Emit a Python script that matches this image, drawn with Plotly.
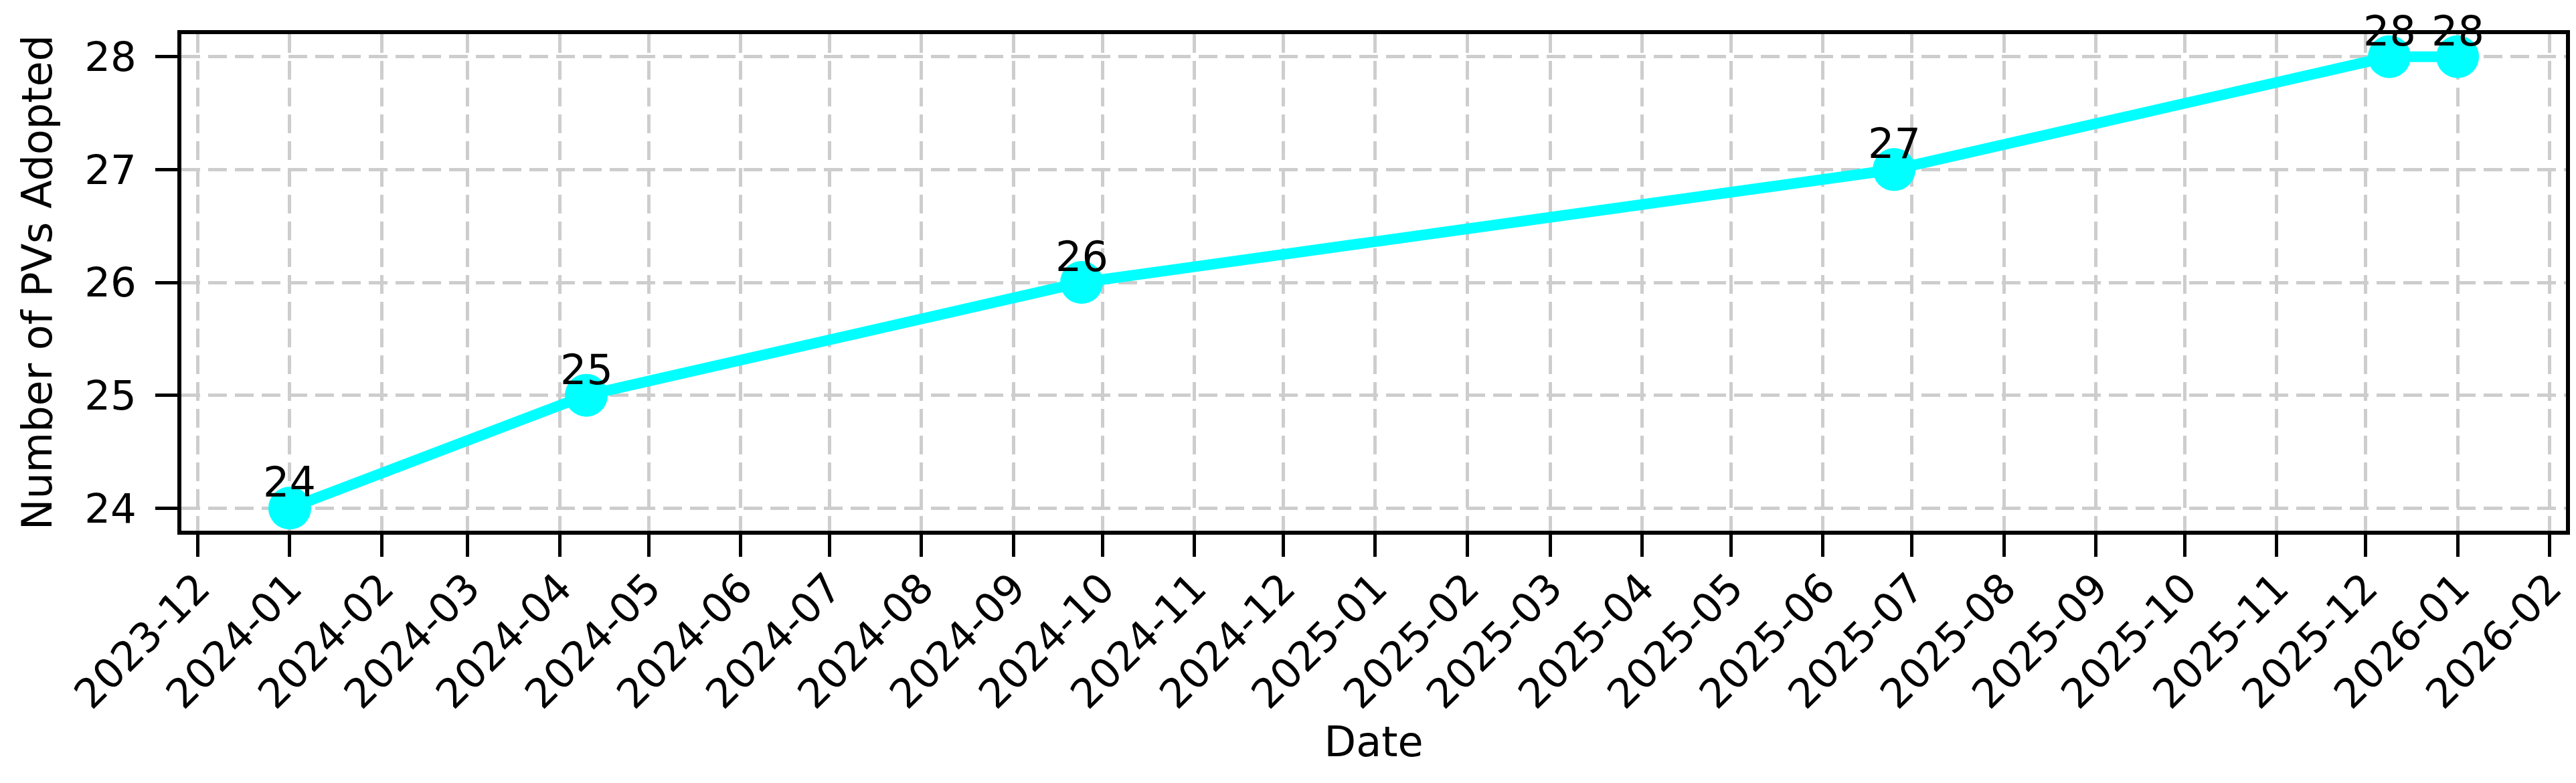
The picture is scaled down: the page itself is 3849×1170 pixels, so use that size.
import plotly.graph_objects as go
import pandas as pd

# Data
dates = ["2024-01-01", "2024-04-10", "2024-09-24", "2025-06-25", "2025-12-09", "2026-01-01"]
pv_counts = [24, 25, 26, 27, 28, 28]

x_title = "Date"
y_title = "Number of PVs Adopted"

# axis ranges with 5% padding (matplotlib default margins)
dt = pd.to_datetime(dates)
span = dt.max() - dt.min()
x_range = [(dt.min() - span * 0.05).strftime("%Y-%m-%d %H:%M:%S"),
           (dt.max() + span * 0.05).strftime("%Y-%m-%d %H:%M:%S")]
y_span = max(pv_counts) - min(pv_counts)
y_range = [min(pv_counts) - 0.05 * y_span, max(pv_counts) + 0.05 * y_span]

FONT = "DejaVu Sans"
TICK_SIZE = 61
TITLE_SIZE = 62

fig = go.Figure()
fig.add_trace(go.Scatter(
    x=dates, y=pv_counts, mode="lines+markers",
    line=dict(color="#00ffff", width=16),
    marker=dict(color="#00ffff", size=64, line=dict(width=0)),
    showlegend=False,
))

for d, v in zip(dates, pv_counts):
    fig.add_annotation(x=d, y=v, text=str(v), showarrow=False,
                       xanchor="center", yanchor="bottom", yshift=0,
                       font=dict(family=FONT, size=62, color="black"))

grid_common = dict(showgrid=True, gridcolor="#cdcdcd", gridwidth=5, griddash="28px,12px",
                   showline=True, linecolor="black", linewidth=6, mirror=True,
                   ticks="outside", ticklen=33, tickwidth=5, tickcolor="black",
                   zeroline=False,
                   tickfont=dict(family=FONT, size=TICK_SIZE, color="black"))

fig.update_xaxes(type="date", range=x_range, dtick="M1", tick0="2023-12-01",
                 tickformat="%Y-%m", tickangle=-45,
                 ticklabelstandoff=-14,
                 title=dict(text=x_title, font=dict(family=FONT, size=TITLE_SIZE, color="black"), standoff=0),
                 **grid_common)
fig.update_yaxes(range=y_range, dtick=1, tick0=24,
                 title=dict(text=y_title, font=dict(family=FONT, size=TITLE_SIZE, color="black"), standoff=30),
                 ticklabelstandoff=16,
                 **grid_common)

fig.update_layout(
    width=3849, height=1170,
    margin=dict(l=263, r=23, t=43, b=385, autoexpand=False),
    paper_bgcolor="white", plot_bgcolor="white",
    font=dict(family=FONT, color="black"),
)

fig.write_html("out.html")
